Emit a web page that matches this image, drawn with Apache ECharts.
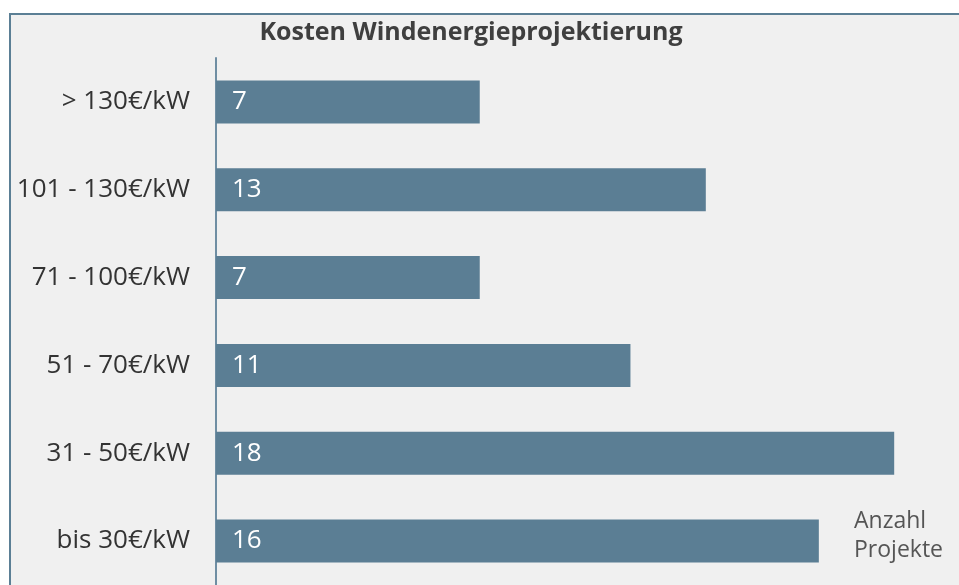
<!DOCTYPE html>
<html>
<head>
<meta charset="utf-8">
<script src="https://cdn.jsdelivr.net/npm/echarts@6/dist/echarts.min.js"></script>
<style>
  html, body { margin: 0; padding: 0; background: #ffffff; }
  #chart { width: 959px; height: 585px; }
</style>
</head>
<body>
<div id="chart"></div>
<script>
// Cost bands (top to bottom) and number of projects in each band
const categories = ['> 130€/kW', '101 - 130€/kW', '71 - 100€/kW', '51 - 70€/kW', '31 - 50€/kW', 'bis 30€/kW'];
const projectCounts = [7, 13, 7, 11, 18, 16];
const titleText = 'Kosten Windenergieprojektierung';
const axisNameLines = ['Anzahl', 'Projekte'];

const FONT = '"Open Sans", "Noto Sans", sans-serif';
const BAR = '#5b7e94';

const chart = echarts.init(document.getElementById('chart'), null, { renderer: 'canvas' });

chart.setOption({
  backgroundColor: '#ffffff',
  animation: false,
  graphic: [
    {
      type: 'rect',
      z: -10,
      silent: true,
      shape: { x: 10, y: 14, width: 960, height: 600 },
      style: { fill: '#f0f0f0', stroke: '#5b7f95', lineWidth: 2 }
    },
    {
      type: 'text',
      left: 854,
      top: 507,
      z: 10,
      style: {
        text: axisNameLines.join('\n'),
        font: '23px ' + FONT,
        fill: '#555555',
        lineHeight: 29
      }
    }
  ],
  title: {
    text: titleText,
    left: 466,
    textAlign: 'center',
    top: 15,
    textStyle: { fontFamily: FONT, fontSize: 25, fontWeight: 'bold', color: '#3f3f3f' }
  },
  // the value axis runs past the right edge of the frame
  grid: { left: 216, top: 58, right: 0, height: 528, containLabel: false },
  xAxis: {
    type: 'value',
    min: 0,
    max: 19.72,
    show: false
  },
  yAxis: {
    type: 'category',
    data: categories,
    inverse: true,
    axisLine: { show: true, lineStyle: { color: '#6f8ea3', width: 2 } },
    axisTick: { show: false },
    axisLabel: { margin: 26, fontFamily: FONT, fontSize: 26, color: '#333333' }
  },
  series: [{
    type: 'bar',
    data: projectCounts,
    barWidth: 43,
    itemStyle: { color: BAR },
    label: {
      show: true,
      position: 'insideLeft',
      distance: 16,
      fontFamily: FONT,
      fontSize: 26,
      color: '#ffffff'
    }
  }]
});
</script>
</body>
</html>
